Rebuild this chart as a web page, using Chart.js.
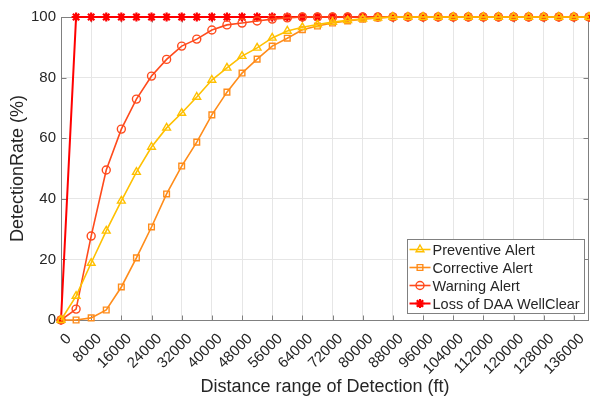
<!DOCTYPE html>
<html>
<head>
<meta charset="utf-8">
<script src="https://cdn.jsdelivr.net/npm/chart.js@4.4.1/dist/chart.umd.min.js"></script>
<style>
  body { margin: 0; background: #fff; }
  #wrap { width: 590px; height: 400px; }
</style>
</head>
<body>
<div id="wrap"><canvas id="detChart" width="590" height="400"></canvas></div>
<script>
const distances = [0, 4000, 8000, 12000, 16000, 20000, 24000, 28000, 32000, 36000, 40000, 44000,
  48000, 52000, 56000, 60000, 64000, 68000, 72000, 76000, 80000, 84000, 88000, 92000,
  96000, 100000, 104000, 108000, 112000, 116000, 120000, 124000, 128000, 132000, 136000, 140000];

const preventive = [0, 7.9, 18.8, 29.4, 39.3, 48.8, 57.1, 63.4, 68.3, 73.6, 79.2, 83.2,
  87.1, 89.8, 93.1, 95.4, 96.6, 97.5, 98.3, 98.9, 99.4, 99.7, 100, 100,
  100, 100, 100, 100, 100, 100, 100, 100, 100, 100, 100, 100];

const corrective = [0, 0, 0.7, 3.3, 10.9, 20.5, 30.7, 41.6, 50.8, 58.7, 67.7, 75.2,
  81.5, 86.1, 90.4, 93.0, 95.8, 97.0, 98.0, 98.7, 99.3, 99.7, 100, 100,
  100, 100, 100, 100, 100, 100, 100, 100, 100, 100, 100, 100];

const warning = [0, 3.6, 27.7, 49.5, 63.0, 72.9, 80.5, 86.0, 90.4, 92.7, 95.7, 97.4,
  98.0, 98.7, 99.3, 99.7, 100, 100, 100, 100, 100, 100, 100, 100,
  100, 100, 100, 100, 100, 100, 100, 100, 100, 100, 100, 100];

const lossWellClear = [0, 100, 100, 100, 100, 100, 100, 100, 100, 100, 100, 100,
  100, 100, 100, 100, 100, 100, 100, 100, 100, 100, 100, 100,
  100, 100, 100, 100, 100, 100, 100, 100, 100, 100, 100, 100];

const xTicks = [0, 8000, 16000, 24000, 32000, 40000, 48000, 56000, 64000, 72000, 80000, 88000,
  96000, 104000, 112000, 120000, 128000, 136000];
const yTicks = [0, 20, 40, 60, 80, 100];

const FONT = "'Liberation Sans', Arial, sans-serif";
const AXIS_COLOR = '#808080';
const TEXT_COLOR = '#262626';

// plot box edges in canvas pixels
const PLOT_LEFT = 61, PLOT_RIGHT = 589;

function toPoints(ys) {
  return ys.map((y, i) => ({ x: distances[i], y: y }));
}

function series(label, ys, color, style, radius, width, markerWidth) {
  return {
    label: label,
    data: toPoints(ys),
    borderColor: color,
    backgroundColor: 'rgba(0,0,0,0)',
    borderWidth: width,
    pointStyle: style,
    pointRadius: radius,
    pointBorderColor: color,
    pointBorderWidth: markerWidth,
    pointBackgroundColor: 'rgba(0,0,0,0)',
    clip: false,
    tension: 0
  };
}

// box around the plot, inward tick marks and the legend in the lower right
const boxAndLegend = {
  id: 'boxAndLegend',
  beforeDatasetsDraw(chart) {
    const ctx = chart.ctx;
    const a = chart.chartArea;
    const xs = chart.scales.x, ys = chart.scales.y;
    const left = Math.round(a.left) + 0.5, right = Math.round(a.right) - 0.5;
    const top = Math.round(a.top) + 0.5, bottom = Math.round(a.bottom) + 0.5;
    ctx.save();
    ctx.strokeStyle = AXIS_COLOR;
    ctx.lineWidth = 1;
    ctx.beginPath();
    xTicks.forEach(v => {
      const px = Math.round(xs.getPixelForValue(v)) + 0.5;
      ctx.moveTo(px, bottom); ctx.lineTo(px, bottom - 5);
      ctx.moveTo(px, top); ctx.lineTo(px, top + 5);
    });
    yTicks.forEach(v => {
      const py = Math.round(ys.getPixelForValue(v)) + 0.5;
      ctx.moveTo(left, py); ctx.lineTo(left + 5, py);
      ctx.moveTo(right, py); ctx.lineTo(right - 5, py);
    });
    ctx.stroke();
    ctx.strokeRect(left, top, right - left, bottom - top);
    ctx.restore();
  },
  afterDraw(chart) {
    const ctx = chart.ctx;
    const a = chart.chartArea;
    const w = 177, h = 74;
    const lx = Math.round(a.right - 5 - w) + 0.5;
    const ly = Math.round(a.bottom - 7 - h) + 0.5;
    ctx.save();
    ctx.fillStyle = '#fff';
    ctx.fillRect(lx, ly, w, h);
    ctx.strokeStyle = AXIS_COLOR;
    ctx.lineWidth = 1;
    ctx.strokeRect(lx, ly, w, h);
    ctx.font = '14.5px ' + FONT;
    ctx.textBaseline = 'middle';
    ctx.textAlign = 'left';
    chart.data.datasets.forEach((ds, i) => {
      const ry = ly + 10 + i * 18;
      ctx.strokeStyle = ds.borderColor;
      ctx.lineWidth = ds.borderWidth;
      ctx.beginPath();
      ctx.moveTo(lx + 2, ry); ctx.lineTo(lx + 23, ry);
      ctx.stroke();
      ctx.fillStyle = 'rgba(0,0,0,0)';
      ctx.lineWidth = ds.pointBorderWidth;
      Chart.helpers.drawPoint(ctx, {
        pointStyle: ds.pointStyle, radius: ds.pointRadius, rotation: 0,
        borderWidth: ds.pointBorderWidth
      }, lx + 12.5, ry);
      ctx.fillStyle = TEXT_COLOR;
      ctx.fillText(ds.label, lx + 25, ry + 1);
    });
    ctx.restore();
  }
};

const detectionData = {
  datasets: [
    series('Preventive Alert', preventive, '#FFC000', 'triangle', 4.5, 1.6, 1.4),
    series('Corrective Alert', corrective, '#FF8C1A', 'rect', 4, 1.6, 1.4),
    series('Warning Alert', warning, '#FF4A1C', 'circle', 4, 1.6, 1.4),
    series('Loss of DAA WellClear', lossWellClear, '#FF0000', 'star', 4.5, 2, 2.2)
  ]
};

const detectionOptions = {
  responsive: false,
  animation: false,
  devicePixelRatio: 1,
  layout: { padding: { top: 17, right: 0, left: 4, bottom: 0 } },
  plugins: {
    legend: { display: false },
    tooltip: { enabled: false }
  },
  scales: {
    x: {
      type: 'linear',
      min: 0,
      max: 140000,
      afterBuildTicks: (scale) => { scale.ticks = xTicks.map(v => ({ value: v })); },
      afterFit: (scale) => {
        scale.height = 80;
        scale.paddingLeft = 0;
        scale.paddingRight = 0;
      },
      grid: { color: '#e6e6e6', drawTicks: false },
      border: { display: false },
      ticks: {
        autoSkip: false,
        minRotation: 45,
        maxRotation: 45,
        padding: 10,
        labelOffset: 8,
        color: TEXT_COLOR,
        font: { family: FONT, size: 15 },
        callback: (v) => String(v)
      },
      title: {
        display: true,
        text: 'Distance range of Detection (ft)',
        color: TEXT_COLOR,
        font: { family: FONT, size: 18 },
        padding: { top: 0, bottom: 2 }
      }
    },
    y: {
      min: 0,
      max: 100,
      afterBuildTicks: (scale) => { scale.ticks = yTicks.map(v => ({ value: v })); },
      afterFit: (scale) => {
        scale.width = 57;
        scale.paddingTop = 0;
        scale.paddingBottom = 0;
      },
      grid: { color: '#e6e6e6', drawTicks: false },
      border: { display: false },
      ticks: {
        padding: 5,
        color: TEXT_COLOR,
        font: { family: FONT, size: 15 }
      },
      title: {
        display: true,
        text: 'DetectionRate (%)',
        color: TEXT_COLOR,
        font: { family: FONT, size: 18 },
        padding: { top: 3, bottom: 0 }
      }
    }
  }
};

// keep the chart area and x scale on the fixed plot box
const pinArea = {
  id: 'pinArea',
  afterLayout(chart) {
    chart.chartArea.left = PLOT_LEFT;
    chart.chartArea.right = PLOT_RIGHT;
    chart.chartArea.width = PLOT_RIGHT - PLOT_LEFT;
    const xs = chart.scales.x;
    xs.left = PLOT_LEFT;
    xs.right = PLOT_RIGHT;
    xs.width = PLOT_RIGHT - PLOT_LEFT;
    xs.configure();
  }
};

const detChart = new Chart(document.getElementById('detChart'), {
  type: 'line',
  data: detectionData,
  options: detectionOptions,
  plugins: [pinArea, boxAndLegend]
});
</script>
</body>
</html>
